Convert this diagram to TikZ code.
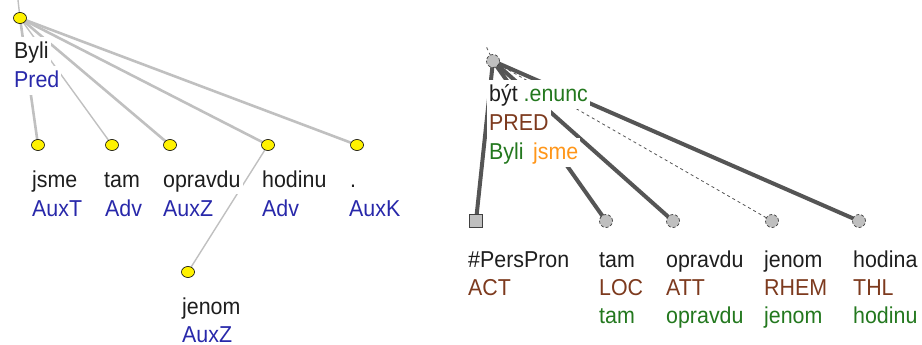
\documentclass[tikz,border=0pt]{standalone}
\usepackage{fontspec}
\setmainfont{Liberation Sans}[FakeStretch=0.93]
\usetikzlibrary{backgrounds,shapes.geometric}
\definecolor{tblue}{RGB}{40,40,170}
\definecolor{tbrown}{RGB}{125,58,30}
\definecolor{tgreen}{RGB}{35,120,30}
\definecolor{torange}{RGB}{255,150,25}
\definecolor{tdark}{RGB}{30,30,30}
\definecolor{lgray}{RGB}{192,192,192}
\definecolor{dgray}{RGB}{85,85,85}
\tikzset{
  ynode/.style={ellipse, draw=black, line width=0.6pt, fill=yellow, minimum width=13pt, minimum height=11pt, inner sep=0pt},
  gnode/.style={circle, draw=black!75, densely dashed, line width=0.7pt, fill=black!25, minimum size=13pt, inner sep=0pt},
  gsq/.style={rectangle, draw=black!75, line width=0.8pt, fill=black!25, minimum size=13pt, inner sep=0pt},
  lbl/.style={anchor=base west, fill=white, inner xsep=2pt, inner ysep=0pt, text height=22pt, text depth=7pt, font=\fontsize{23}{28}\selectfont, text=tdark},
  aline/.style={draw=lgray, line width=2.6pt},
  athin/.style={draw=lgray, line width=1.4pt},
  tline/.style={draw=dgray, line width=4pt},
  tdash/.style={draw=dgray, line width=0.8pt, dashed, dash pattern=on 3pt off 3pt},
}
\begin{document}
\begin{tikzpicture}[x=1pt,y=-1pt]
\useasboundingbox (0,0) rectangle (922,345);
% ---------- left tree ----------
\node[ynode] (L0) at (20,18) {};
\coordinate (Lup) at (18,0);
\node[lbl] (L0w) at (12,59) {Byli};
\node[lbl, text=tblue] (L0t) at (12,88) {Pred};
\node[ynode] (L1) at (38,145) {};
\node[ynode] (L2) at (112,145) {};
\node[ynode] (L3) at (170,145) {};
\node[ynode] (L4) at (268,145) {};
\node[ynode] (L5) at (357,145) {};
\node[ynode] (L6) at (188,272) {};
\node[lbl] (L1w) at (30,187) {jsme};
\node[lbl] (L2w) at (102,187) {tam};
\node[lbl] (L3w) at (161,187) {opravdu};
\node[lbl] (L4w) at (260,187) {hodinu};
\node[lbl] (L5w) at (348,187) {.};
\node[lbl, text=tblue] (L1t) at (30,216) {AuxT};
\node[lbl, text=tblue] (L2t) at (103,216) {Adv};
\node[lbl, text=tblue] (L3t) at (161,216) {AuxZ};
\node[lbl, text=tblue] (L4t) at (260,216) {Adv};
\node[lbl, text=tblue] (L5t) at (347,216) {AuxK};
\node[lbl] (L6w) at (180,314) {jenom};
\node[lbl, text=tblue, text depth=0pt] (L6t) at (180,342) {AuxZ};
% ---------- right tree ----------
\node[gnode] (R0) at (493,61) {};
\coordinate (Rup) at (486,46);
\node[lbl] (R0w) at (487,102) {být \textcolor{tgreen}{.enunc}};
\node[lbl, text=tbrown] (R0t) at (487,131) {PRED};
\node[lbl, text=tgreen] (R0l) at (487,160) {Byli\hspace{9.5pt}\textcolor{torange}{jsme}};
\node[gsq] (R1) at (476,221) {};
\node[gnode] (R2) at (606,221) {};
\node[gnode] (R3) at (673,221) {};
\node[gnode] (R4) at (772,221) {};
\node[gnode] (R5) at (859,221) {};
\node[lbl] (R1w) at (466,267) {\#PersPron};
\node[lbl] (R2w) at (597,267) {tam};
\node[lbl] (R3w) at (664,267) {opravdu};
\node[lbl] (R4w) at (762,267) {jenom};
\node[lbl] (R5w) at (851,267) {hodina};
\node[lbl, text=tbrown] (R1t) at (466,295) {ACT};
\node[lbl, text=tbrown] (R2t) at (597,295) {LOC};
\node[lbl, text=tbrown] (R3t) at (664,295) {ATT};
\node[lbl, text=tbrown] (R4t) at (762,295) {RHEM};
\node[lbl, text=tbrown] (R5t) at (851,295) {THL};
\node[lbl, text=tgreen] (R2l) at (597,323) {tam};
\node[lbl, text=tgreen] (R3l) at (664,323) {opravdu};
\node[lbl, text=tgreen] (R4l) at (762,323) {jenom};
\node[lbl, text=tgreen] (R5l) at (851,323) {hodinu};
% ---------- edges ----------
\begin{pgfonlayer}{background}
\draw[athin] (L0.center) -- (Lup);
\draw[aline] (L0.center) -- (L1.center);
\draw[athin] (L0.center) -- (L2.center);
\draw[aline] (L0.center) -- (L3.center);
\draw[aline] (L0.center) -- (L4.center);
\draw[aline] (L0.center) -- (L5.center);
\draw[athin] (L4.center) -- (L6.center);
\draw[tdash] (R0.center) -- (Rup);
\draw[tline] (R0.center) -- (R1.center);
\draw[tline] (R0.center) -- (R2.center);
\draw[tline] (R0.center) -- (R3.center);
\draw[tdash] (R0.center) -- (R4.center);
\draw[tline] (R0.center) -- (R5.center);
\end{pgfonlayer}
\end{tikzpicture}
\end{document}
